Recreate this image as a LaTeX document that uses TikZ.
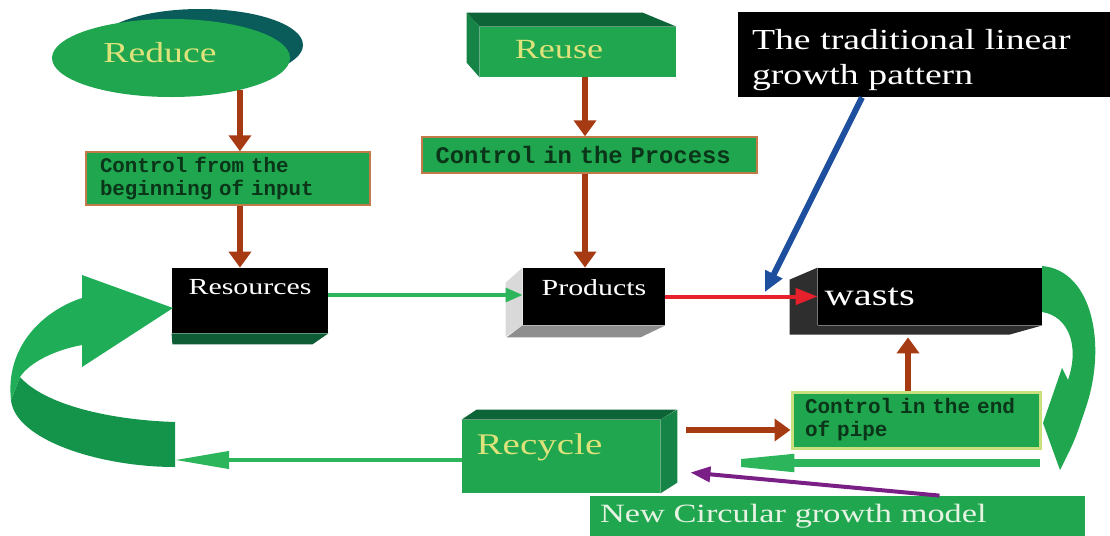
\documentclass[tikz,border=0pt]{standalone}
\usepackage{fontspec}
\newfontfamily\wideserif{Liberation Serif}[FakeStretch=1.3]
\newfontfamily\ctrlmono{Liberation Mono}
\usetikzlibrary{shapes.geometric}
\usetikzlibrary{arrows.meta}
\usetikzlibrary{calc}

\definecolor{boxgreen}{HTML}{1FA64F}
\definecolor{topface}{HTML}{0D6436}
\definecolor{sideface}{HTML}{168447}
\definecolor{redshadow}{HTML}{0A5C5A}
\definecolor{yeltext}{HTML}{DDE27A}
\definecolor{ctrltext}{HTML}{0B3518}
\definecolor{boxedge}{HTML}{C27A4A}
\definecolor{pipeedge}{HTML}{C9E07E}
\definecolor{arrowbrown}{HTML}{A63A12}
\definecolor{flowgreen}{HTML}{2DB55C}
\definecolor{wasteface}{HTML}{2E2E2E}
\definecolor{resface}{HTML}{0E5C36}
\definecolor{prodside}{HTML}{D9D9D9}
\definecolor{prodbottom}{HTML}{8E8E8E}
\definecolor{loopupper}{HTML}{1FAD57}
\definecolor{looplower}{HTML}{14944B}
\definecolor{circtext}{HTML}{E6F3E3}
\definecolor{arrowred}{HTML}{E6212B}
\definecolor{arrowblue}{HTML}{1D4F9E}
\definecolor{arrowpurple}{HTML}{7A1F85}

\begin{document}
\begin{tikzpicture}[x=0.5pt, y=-0.5pt,
    ctrlbox/.style={draw=#1, line width=0.7pt, fill=boxgreen, inner sep=0pt, align=left, text=ctrltext},
    ctrlbox/.default=boxedge,
    ctrlfont/.style={font=\ctrlmono\bfseries\fontsize{#1}{11.5}\selectfont},
    blackbox/.style={fill=black, inner sep=0pt},
    namelabel/.style={text=white, font=\wideserif\fontsize{11.5}{13}\selectfont},
    yellabel/.style={text=yeltext, font=\wideserif\fontsize{#1}{#1}\selectfont},
    brownarrow/.style={draw=arrowbrown, line width=3pt, -{Triangle[length=8pt,width=11pt]}},
    greenline/.style={draw=flowgreen, line width=1.6pt, -{Triangle[length=8.5pt,width=7pt]}},
    longgreen/.style={draw=flowgreen, line width=#1, -{Triangle[length=27pt,width=8.5pt]}},
    redline/.style={draw=arrowred, line width=2pt, -{Triangle[length=11pt,width=8pt]}},
    blueline/.style={draw=arrowblue, line width=3pt, -{Triangle[length=10pt,width=9pt]}},
    purpline/.style={draw=arrowpurple, line width=2pt, -{Triangle[length=10pt,width=7.5pt]}}]
\useasboundingbox (0,0) rectangle (1110,536);

% Reduce
\fill[redshadow] (200,45) ellipse [x radius=51.5pt, y radius=18pt];
\node[ellipse, fill=boxgreen, inner sep=0pt, minimum width=119pt, minimum height=39pt,
      label={[yellabel=14.5, xshift=-5.5pt, yshift=2.5pt]center:Reduce}] (reduce) at (171,58) {};

% Reuse (3D box)
\node[fill=boxgreen, inner sep=0pt, minimum width=98pt, minimum height=25pt,
      label={[yellabel=13.9, xshift=-9.5pt, yshift=1pt]center:Reuse}] (reuse) at (578,52) {};
\fill[topface] (reuse.north west) -- ++(-13,-14) -- ++(176,0) -- (reuse.north east) -- cycle;
\fill[sideface] (reuse.north west) -- ++(-13,-14) -- ++(0,50) -- (reuse.south west) -- cycle;

% Title
\node[blackbox, minimum width=186pt, minimum height=42.5pt,
      label={[yshift=-3pt, text width=172pt, align=left, text=white,
              font=\wideserif\fontsize{14.5}{17.5}\selectfont]center:The traditional linear\\growth pattern}]
      (title) at (924,54.5) {};

% Control boxes
\node[ctrlbox, ctrlfont=10.4, minimum width=142pt, minimum height=26.5pt, text width=128pt]
      (ctrl1) at (228,178.5) {Control from the\\beginning of input};
\node[ctrlbox, ctrlfont=11.9, minimum width=167.5pt, minimum height=18pt, text width=154pt]
      (ctrl2) at (589.5,155) {Control in the Process};

% Resources, Products, wasts
\node[blackbox, minimum width=78pt, minimum height=32.5pt,
      label={[namelabel, anchor=north, yshift=-2.5pt]north:Resources}] (res) at (250,300.5) {};
\fill[resface] (res.south west) -- (res.south east) -- ++(-16,11) -- ++(-140,0) -- cycle;

\node[blackbox, minimum width=71pt, minimum height=28.5pt,
      label={[namelabel, anchor=north, yshift=-2.5pt]north:Products}] (prod) at (594,296.5) {};
\fill[prodside] (prod.north west) -- ++(-17,15) -- ++(0,54) -- (prod.south west) -- cycle;
\fill[prodbottom] (prod.south west) -- (prod.south east) -- ++(-25,12) -- ++(-134,0) -- cycle;

\node[blackbox, minimum width=112pt, minimum height=28.5pt,
      label={[anchor=west, text=white, font=\wideserif\fontsize{15.6}{16}\selectfont]west:wasts}]
      (wasts) at (930,296.5) {};
\fill[wasteface] (wasts.north west) -- ++(-28,12) -- ++(0,55) -- ++(220,0)
      -- (wasts.south east) -- (wasts.south west) -- cycle;

% End of pipe, Recycle, model
\node[ctrlbox=pipeedge, line width=1.5pt, ctrlfont=10.5, minimum width=124pt, minimum height=28pt,
      text width=111pt] (ctrl3) at (916,420) {Control in the end\\of pipe};

\node[fill=boxgreen, inner sep=0pt, minimum width=99pt, minimum height=36.5pt,
      label={[yellabel=15, xshift=-10.75pt, yshift=4.75pt]center:Recycle}] (recyc) at (561,456.5) {};
\fill[topface] (recyc.north west) -- ++(15,-10) -- ++(200,0) -- (recyc.north east) -- cycle;
\fill[sideface] (recyc.north east) -- ++(17,-10) -- ++(0,73) -- (recyc.south east) -- cycle;

\node[fill=boxgreen, inner sep=0pt, minimum width=247.5pt, minimum height=20pt, text width=237.5pt,
      align=left, text=circtext, font=\wideserif\fontsize{13.2}{14}\selectfont]
      (circ) at (837.5,516) {New Circular growth model};

% Loop arrows
\fill[looplower] (175,422) .. controls (110,420) and (45,405) .. (20,377) -- (11,400)
      .. controls (15,440) and (100,467) .. (175,467) -- cycle;
\fill[loopupper] (11,400) .. controls (5,345) and (45,310) .. (82,298) -- (82,275) -- (173,308)
      -- (82,367) -- (82,345) .. controls (55,350) and (30,362) .. (20,377) -- cycle;
\fill[boxgreen] (1042,266) .. controls (1092,270) and (1108,345) .. (1085,410)
      .. controls (1075,440) .. (1060,470) -- (1043,423) -- (1062,368) -- (1068,380)
      .. controls (1080,345) and (1068,316) .. (1042,312) -- cycle;

% Brown arrows
\draw[brownarrow] (reduce.-25) -- (reduce.-25 |- ctrl1.north);
\draw[brownarrow] (ctrl1.south -| reduce.-25) -- (res.north -| reduce.-25);
\coordinate (colB) at (585,0);
\draw[brownarrow] (reuse.south -| colB) -- (ctrl2.north -| colB);
\draw[brownarrow] (ctrl2.south -| colB) -- (prod.north -| colB);
\coordinate (colC) at (908,0);
\draw[brownarrow] (ctrl3.north -| colC) -- ([yshift=-6pt]wasts.south -| colC);
\draw[brownarrow] ([xshift=13pt,yshift=-5pt]recyc.east |- ctrl3.west) -- ([yshift=-5pt]ctrl3.west);

% Flow arrows
\draw[greenline] ([yshift=2.75pt]res.east) -- ([yshift=2.75pt]res.east -| prod.west);
\draw[redline] (prod.east) -- (wasts.west);
\coordinate (hit) at (765,292);
\draw[blueline] ([xshift=-31pt]title.south) -- (hit);
\coordinate (loopend) at (175,460);
\draw[longgreen=2pt] ([yshift=-1.75pt]recyc.west) -- (loopend);
\coordinate (backstart) at (1040,463);
\draw[draw=flowgreen, line width=4pt, -{Triangle[length=53pt,width=8pt]}]
      (backstart) -- ([xshift=14pt]recyc.east |- backstart);
\draw[purpline] ([xshift=51pt]circ.north) -- ([xshift=15pt,yshift=-8pt]recyc.east);

\end{tikzpicture}
\end{document}
